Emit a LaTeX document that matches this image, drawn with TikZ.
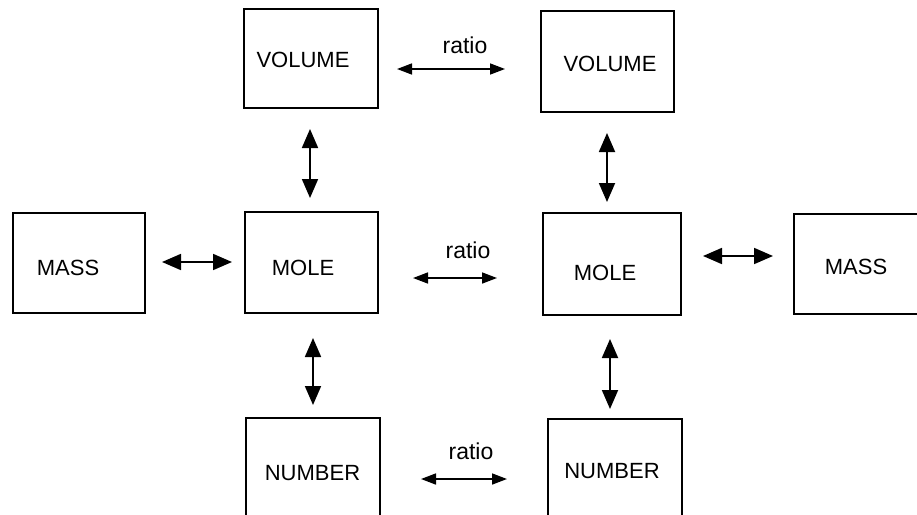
\documentclass[tikz,border=0pt]{standalone}
\usepackage{fontspec}
\setmainfont{Liberation Sans}
\usetikzlibrary{arrows.meta}
\tikzset{
  box/.style={draw, line width=2.6pt, rectangle, inner sep=0pt, minimum width=#1},
  box/.default=134pt,
  lbl/.style={anchor=base, inner sep=0pt, font=\fontsize{22}{26}\selectfont},
  rlbl/.style={anchor=base, inner sep=0pt, font=\fontsize{23}{27}\selectfont},
  bigarr/.style={line width=1.8pt, {Triangle[length=19pt,width=16pt]}-{Triangle[length=19pt,width=16pt]}},
  smallarr/.style={line width=1.6pt, {Triangle[length=15pt,width=11pt]}-{Triangle[length=15pt,width=11pt]}}
}
\begin{document}
\begin{tikzpicture}[x=1pt,y=-1pt]
\useasboundingbox (0,0) rectangle (917,514);
% boxes
\node[box=134pt, minimum height=99pt]  (volL)  at (311,58.5) {};
\node[box=133pt, minimum height=101pt] (volR)  at (607.5,61.5) {};
\node[box=132pt, minimum height=100pt] (massL) at (79,263) {};
\node[box=133pt, minimum height=101pt] (moleL) at (311.5,262.5) {};
\node[box=138pt, minimum height=102pt] (moleR) at (612,264) {};
\node[box=134pt, minimum height=100pt] (massR) at (861,264) {};
\node[box=134pt, minimum height=110pt] (numL)  at (313,473) {};
\node[box=134pt, minimum height=110pt] (numR)  at (615,474) {};
% labels
\node[lbl] (tvolL)  at (303,67)  {VOLUME};
\node[lbl] (tvolR)  at (610,71)  {VOLUME};
\node[lbl] (tmassL) at (68,275)  {MASS};
\node[lbl] (tmoleL) at (303,275) {MOLE};
\node[lbl] (tmoleR) at (605,280) {MOLE};
\node[lbl] (tmassR) at (856,274) {MASS};
\node[lbl] (tnumL)  at (312.5,480) {NUMBER};
\node[lbl] (tnumR)  at (612,478) {NUMBER};
\node[rlbl] (r1) at (465,53)  {ratio};
\node[rlbl] (r2) at (468,258) {ratio};
\node[rlbl] (r3) at (471,459) {ratio};
% arrow end points
\coordinate (a1) at (397,69);   \coordinate (b1) at (505,69);
\coordinate (a2) at (413,278);  \coordinate (b2) at (497,278);
\coordinate (a3) at (421,479);  \coordinate (b3) at (507,479);
\coordinate (a4) at (162,262);  \coordinate (b4) at (232,262);
\coordinate (a5) at (703,256);  \coordinate (b5) at (773,256);
\coordinate (a6) at (310,129);  \coordinate (b6) at (310,198);
\coordinate (a7) at (607,133);  \coordinate (b7) at (607,202);
\coordinate (a8) at (313,338);  \coordinate (b8) at (313,405);
\coordinate (a9) at (610,339);  \coordinate (b9) at (610,409);
% connectors
\draw[smallarr] (a1) -- (b1);
\draw[smallarr] (a2) -- (b2);
\draw[smallarr] (a3) -- (b3);
\draw[bigarr] (a4) -- (b4);
\draw[bigarr] (a5) -- (b5);
\draw[bigarr] (a6) -- (b6);
\draw[bigarr] (a7) -- (b7);
\draw[bigarr] (a8) -- (b8);
\draw[bigarr] (a9) -- (b9);
\end{tikzpicture}
\end{document}
